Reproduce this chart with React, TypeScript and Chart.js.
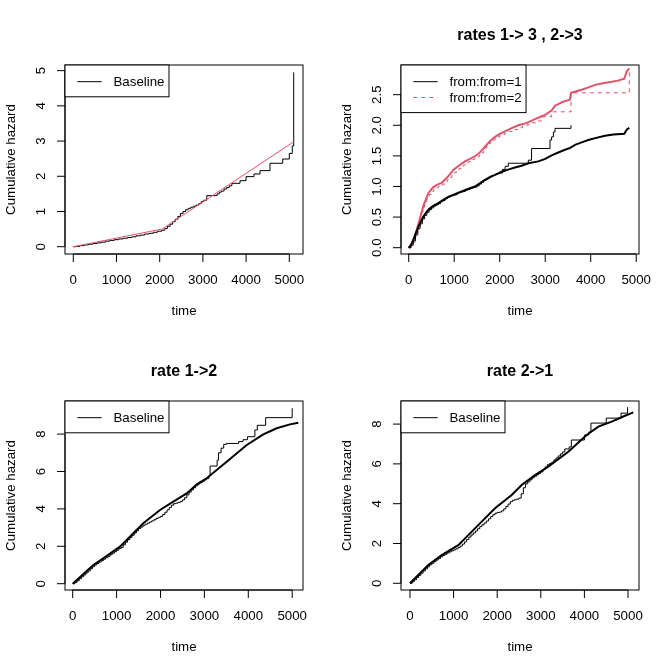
import { useEffect, useRef } from "react";
import { Chart, registerables } from "chart.js";

Chart.register(...registerables);

const RED = "#DF536B";
const FONT = "'Liberation Sans', Arial, Helvetica, sans-serif";

// Shared time axis ticks
const timeTicks = [0, 1000, 2000, 3000, 4000, 5000];

// Panel 1: baseline cumulative hazard (step) and piecewise-linear fit
const p1StepTime = [0, 60, 150, 250, 350, 450, 550, 650, 750, 850, 950, 1050, 1150, 1250, 1350, 1450, 1550, 1650, 1750, 1850, 1950, 2050, 2120, 2180, 2240, 2300, 2360, 2420, 2480, 2540, 2600, 2660, 2720, 2780, 2840, 2900, 2960, 3020, 3090, 3330, 3380, 3430, 3490, 3550, 3610, 3670, 3859, 3998, 4183, 4322, 4553, 4847, 5000, 5069, 5102];
const p1StepHaz = [0, 0.01, 0.03, 0.05, 0.07, 0.09, 0.11, 0.13, 0.16, 0.18, 0.2, 0.22, 0.24, 0.26, 0.28, 0.31, 0.33, 0.36, 0.38, 0.41, 0.44, 0.47, 0.52, 0.58, 0.64, 0.71, 0.78, 0.86, 0.94, 1.0, 1.05, 1.09, 1.12, 1.15, 1.18, 1.22, 1.28, 1.32, 1.45, 1.5, 1.55, 1.58, 1.64, 1.68, 1.73, 1.8, 1.875, 1.99, 2.065, 2.16, 2.37, 2.49, 2.65, 2.86, 4.95];
const p1FitTime = [0, 2050, 5102];
const p1FitHaz = [0, 0.5, 2.98];
const p1YTicks = [0, 1, 2, 3, 4, 5];
const p1YLabels = ["0", "1", "2", "3", "4", "5"];

// Panel 2: rates 1->3 and 2->3
const p2Fit1Time = [0, 40, 101, 150, 211, 270, 321, 380, 431, 530, 651, 760, 870, 1000, 1165, 1300, 1457, 1560, 1677, 1800, 1897, 2044, 2200, 2336, 2480, 2629, 2849, 3000, 3142, 3300, 3435, 3550, 3655, 3800, 3947, 4100, 4314, 4500, 4738, 4791, 4848];
const p2Fit1Haz = [0, 0.03, 0.126, 0.23, 0.34, 0.43, 0.51, 0.57, 0.62, 0.68, 0.73, 0.78, 0.83, 0.87, 0.92, 0.96, 1.0, 1.05, 1.11, 1.16, 1.19, 1.24, 1.28, 1.31, 1.34, 1.38, 1.41, 1.45, 1.51, 1.56, 1.6, 1.63, 1.68, 1.72, 1.76, 1.79, 1.83, 1.85, 1.86, 1.93, 1.96];
const p2Step1Time = [0, 50, 100, 150, 200, 250, 300, 350, 400, 450, 500, 550, 600, 650, 700, 750, 800, 850, 900, 950, 1000, 1050, 1100, 1150, 1200, 1250, 1300, 1350, 1400, 1450, 1500, 1550, 1600, 1650, 1700, 1750, 1800, 1850, 1900, 1950, 2000, 2060, 2120, 2189, 2629, 2700, 3105, 3140, 3180, 3215, 3567];
const p2Step1Haz = [0, 0.04, 0.11, 0.21, 0.31, 0.39, 0.47, 0.53, 0.58, 0.62, 0.65, 0.68, 0.7, 0.72, 0.75, 0.77, 0.8, 0.82, 0.84, 0.85, 0.86, 0.88, 0.9, 0.91, 0.92, 0.94, 0.95, 0.97, 0.98, 0.99, 1.01, 1.04, 1.07, 1.1, 1.12, 1.14, 1.16, 1.18, 1.2, 1.21, 1.22, 1.28, 1.33, 1.38, 1.43, 1.62, 1.76, 1.81, 1.89, 1.95, 2.0];
const p2Fit2Time = [0, 60, 138, 200, 257, 330, 431, 541, 630, 725, 850, 980, 1100, 1237, 1370, 1495, 1580, 1677, 1760, 1860, 1980, 2116, 2250, 2409, 2600, 2776, 2900, 2996, 3140, 3215, 3380, 3545, 3567, 3700, 3802, 3950, 4095, 4300, 4462, 4600, 4738, 4791, 4848];
const p2Fit2Haz = [0, 0.06, 0.18, 0.35, 0.51, 0.7, 0.89, 0.99, 1.03, 1.06, 1.15, 1.27, 1.34, 1.41, 1.46, 1.51, 1.57, 1.65, 1.72, 1.79, 1.85, 1.9, 1.95, 2.0, 2.04, 2.1, 2.14, 2.17, 2.24, 2.32, 2.38, 2.42, 2.53, 2.56, 2.58, 2.62, 2.66, 2.69, 2.71, 2.73, 2.76, 2.88, 2.93];
const p2Step2Time = [0, 50, 100, 150, 200, 250, 300, 350, 400, 450, 500, 550, 600, 650, 700, 750, 800, 850, 900, 950, 1000, 1050, 1100, 1150, 1200, 1250, 1300, 1350, 1400, 1450, 1500, 1550, 1600, 1650, 1700, 1750, 1800, 1850, 1900, 1950, 2000, 2100, 2200, 2300, 2400, 2500, 2600, 2700, 2800, 2920, 3140, 3567, 4848];
const p2Step2Haz = [0, 0.03, 0.09, 0.19, 0.32, 0.46, 0.6, 0.71, 0.8, 0.87, 0.92, 0.95, 0.98, 1.0, 1.02, 1.04, 1.08, 1.11, 1.15, 1.19, 1.23, 1.26, 1.29, 1.32, 1.35, 1.37, 1.4, 1.42, 1.44, 1.46, 1.48, 1.51, 1.55, 1.6, 1.65, 1.7, 1.73, 1.76, 1.79, 1.81, 1.83, 1.87, 1.9, 1.93, 1.96, 1.99, 2.01, 2.04, 2.07, 2.14, 2.22, 2.53, 2.93];
const p2YTicks = [0, 0.5, 1, 1.5, 2, 2.5];
const p2YLabels = ["0.0", "0.5", "1.0", "1.5", "2.0", "2.5"];

// Panel 3: rate 1->2
const p3FitTime = [0, 470, 697, 1077, 1608, 1989, 2292, 2597, 2825, 3052, 3508, 3964, 4342, 4647, 4950, 5139];
const p3FitHaz = [0, 1.0, 1.36, 1.98, 3.23, 3.94, 4.39, 4.83, 5.31, 5.64, 6.52, 7.42, 7.99, 8.31, 8.52, 8.61];
const p3StepTime = [0, 50, 100, 150, 200, 250, 300, 350, 400, 450, 500, 550, 600, 650, 700, 750, 800, 850, 900, 950, 1000, 1050, 1100, 1150, 1200, 1250, 1300, 1350, 1400, 1450, 1500, 1550, 1600, 1650, 1700, 1750, 1800, 1850, 1900, 1950, 2000, 2050, 2100, 2150, 2200, 2250, 2300, 2350, 2400, 2450, 2500, 2550, 2600, 2650, 2700, 2750, 2800, 2850, 2900, 2950, 3000, 3050, 3100, 3130, 3290, 3320, 3380, 3440, 3500, 3780, 3880, 3980, 4150, 4205, 4395, 5000];
const p3StepHaz = [0, 0.07, 0.16, 0.27, 0.37, 0.47, 0.58, 0.68, 0.8, 0.91, 1.0, 1.08, 1.16, 1.24, 1.31, 1.39, 1.46, 1.55, 1.63, 1.71, 1.79, 1.88, 1.93, 2.08, 2.22, 2.35, 2.47, 2.59, 2.71, 2.83, 2.95, 3.03, 3.12, 3.18, 3.24, 3.3, 3.36, 3.42, 3.49, 3.55, 3.6, 3.7, 3.82, 3.95, 4.08, 4.2, 4.28, 4.31, 4.34, 4.4, 4.48, 4.6, 4.75, 4.9, 5.02, 5.13, 5.24, 5.33, 5.4, 5.47, 5.55, 5.62, 5.75, 6.29, 6.6, 7.0, 7.25, 7.45, 7.5, 7.6, 7.7, 7.86, 8.22, 8.47, 8.88, 9.38];

// Panel 4: rate 2->1
const p4FitTime = [0, 420, 727, 1108, 1491, 1950, 2332, 2561, 2867, 3172, 3631, 4052, 4319, 4626, 4931, 5122];
const p4FitHaz = [0, 0.92, 1.42, 1.92, 2.76, 3.77, 4.44, 4.94, 5.44, 5.86, 6.61, 7.45, 7.87, 8.12, 8.42, 8.59];
const p4StepTime = [0, 50, 100, 150, 200, 250, 300, 350, 400, 450, 500, 550, 600, 650, 700, 750, 800, 850, 900, 950, 1000, 1050, 1100, 1150, 1200, 1250, 1300, 1350, 1400, 1450, 1500, 1550, 1600, 1650, 1700, 1750, 1800, 1850, 1900, 1950, 2000, 2050, 2100, 2150, 2200, 2250, 2300, 2350, 2400, 2450, 2500, 2550, 2600, 2650, 2700, 2750, 2800, 2850, 2900, 2950, 3000, 3050, 3100, 3150, 3200, 3250, 3300, 3350, 3400, 3450, 3500, 3550, 3650, 3700, 4000, 4100, 4150, 4500, 4840, 4990];
const p4StepHaz = [0, 0.08, 0.18, 0.29, 0.4, 0.51, 0.62, 0.73, 0.83, 0.93, 1.01, 1.09, 1.17, 1.25, 1.33, 1.4, 1.46, 1.52, 1.58, 1.63, 1.68, 1.73, 1.79, 1.87, 1.97, 2.08, 2.2, 2.32, 2.43, 2.53, 2.63, 2.74, 2.85, 2.94, 3.03, 3.13, 3.24, 3.35, 3.45, 3.52, 3.56, 3.58, 3.64, 3.74, 3.86, 3.98, 4.1, 4.17, 4.2, 4.23, 4.28, 4.5, 4.8, 5.0, 5.1, 5.2, 5.3, 5.38, 5.45, 5.52, 5.6, 5.72, 5.84, 5.96, 6.02, 6.08, 6.2, 6.3, 6.4, 6.5, 6.6, 6.75, 6.85, 7.2, 7.45, 7.6, 8.05, 8.3, 8.55, 8.85];
const p34YTicks = [0, 2, 4, 6, 8];
const p34YLabels = ["0", "2", "4", "6", "8"];

type LegendItem = { label: string; color: string; dash?: number[] };
type PanelOpts = {
  title?: string;
  xTicks: number[];
  yTicks: number[];
  yLabels: string[];
  legend: LegendItem[];
};

const axisFont = `13.3px ${FONT}`;

// Draws R-style box, outward ticks, rotated y labels, titles and legend
const rStyle = {
  id: "rStyle",
  afterDraw(chart: any, _args: any, opts: PanelOpts) {
    const { ctx, chartArea: a, scales } = chart;
    const xs = scales.x;
    const ys = scales.y;
    ctx.save();
    ctx.strokeStyle = "#000";
    ctx.fillStyle = "#000";
    ctx.lineWidth = 1;
    ctx.setLineDash([]);

    ctx.strokeRect(a.left, a.top, a.right - a.left, a.bottom - a.top);

    // x axis
    const xp = opts.xTicks.map((v) => xs.getPixelForValue(v));
    ctx.beginPath();
    ctx.moveTo(xp[0], a.bottom);
    ctx.lineTo(xp[xp.length - 1], a.bottom);
    xp.forEach((p) => {
      ctx.moveTo(p, a.bottom);
      ctx.lineTo(p, a.bottom + 8);
    });
    // y axis
    const yp = opts.yTicks.map((v) => ys.getPixelForValue(v));
    ctx.moveTo(a.left, yp[0]);
    ctx.lineTo(a.left, yp[yp.length - 1]);
    yp.forEach((p) => {
      ctx.moveTo(a.left, p);
      ctx.lineTo(a.left - 8, p);
    });
    ctx.stroke();

    ctx.font = axisFont;
    ctx.textAlign = "center";
    ctx.textBaseline = "alphabetic";
    xp.forEach((p, i) => ctx.fillText(String(opts.xTicks[i]), p, a.bottom + 30));
    yp.forEach((p, i) => {
      ctx.save();
      ctx.translate(a.left - 20, p);
      ctx.rotate(-Math.PI / 2);
      ctx.fillText(opts.yLabels[i], 0, 0);
      ctx.restore();
    });

    const cx = (a.left + a.right) / 2;
    const cy = (a.top + a.bottom) / 2;
    ctx.fillText("time", cx, a.bottom + 61);
    ctx.save();
    ctx.translate(a.left - 50.5, cy);
    ctx.rotate(-Math.PI / 2);
    ctx.fillText("Cumulative hazard", 0, 0);
    ctx.restore();

    if (opts.title) {
      ctx.font = `bold 16px ${FONT}`;
      ctx.fillText(opts.title, cx, a.top - 25.3);
    }

    // legend in the top-left corner
    ctx.font = axisFont;
    const rowH = 15.8;
    const textX = a.left + 48.5;
    const wMax = Math.max(...opts.legend.map((it) => ctx.measureText(it.label).width));
    const boxW = textX - a.left + wMax + 4.5;
    const boxH = 16 + rowH * opts.legend.length;
    ctx.fillStyle = "#fff";
    ctx.fillRect(a.left, a.top, boxW, boxH);
    ctx.strokeStyle = "#000";
    ctx.strokeRect(a.left, a.top, boxW, boxH);
    ctx.textAlign = "left";
    ctx.textBaseline = "middle";
    opts.legend.forEach((it, i) => {
      const y = a.top + 16.7 + i * rowH;
      ctx.strokeStyle = it.color;
      ctx.setLineDash(it.dash || []);
      ctx.beginPath();
      ctx.moveTo(a.left + 12.3, y);
      ctx.lineTo(a.left + 36.7, y);
      ctx.stroke();
      ctx.setLineDash([]);
      ctx.fillStyle = "#000";
      ctx.fillText(it.label, textX, y + 0.5);
    });
    ctx.restore();
  },
};

type Series = {
  t: number[];
  v: number[];
  color: string;
  width: number;
  step?: boolean;
  dash?: number[];
};

function makeDataset(s: Series) {
  return {
    data: s.t.map((x, i) => ({ x, y: s.v[i] })),
    borderColor: s.color,
    borderWidth: s.width,
    borderDash: s.dash || [],
    stepped: s.step ? "before" : false,
    pointRadius: 0,
    tension: 0,
    fill: false,
  };
}

type PanelProps = {
  series: Series[];
  xMin: number;
  xMax: number;
  yMin: number;
  yMax: number;
  opts: PanelOpts;
  left: number;
  top: number;
};

function Panel({ series, xMin, xMax, yMin, yMax, opts, left, top }: PanelProps) {
  const ref = useRef<HTMLCanvasElement | null>(null);
  useEffect(() => {
    if (!ref.current) return;
    const chart = new Chart(ref.current, {
      type: "line",
      data: { datasets: series.map(makeDataset) as any },
      options: {
        responsive: false,
        maintainAspectRatio: false,
        devicePixelRatio: 1,
        animation: false,
        events: [],
        layout: { padding: { left: 65, top: 65, right: 33, bottom: 82 } },
        scales: {
          x: { type: "linear", min: xMin, max: xMax, display: false },
          y: { type: "linear", min: yMin, max: yMax, display: false },
        },
        plugins: {
          legend: { display: false },
          tooltip: { enabled: false },
          rStyle: opts,
        } as any,
      },
      plugins: [rStyle],
    });
    return () => chart.destroy();
  }, []);
  return (
    <div style={{ position: "absolute", left, top, width: 336, height: 336 }}>
      <canvas ref={ref} width={336} height={336} style={{ display: "block" }} />
    </div>
  );
}

export default function App() {
  return (
    <div style={{ position: "absolute", left: 0, top: 0, width: 672, height: 672, background: "#fff" }}>
      <Panel
        left={0}
        top={0}
        xMin={-192}
        xMax={5317}
        yMin={-0.207}
        yMax={5.16}
        series={[
          { t: p1FitTime, v: p1FitHaz, color: RED, width: 1 },
          { t: p1StepTime, v: p1StepHaz, color: "#000", width: 1, step: true },
        ]}
        opts={{
          xTicks: timeTicks,
          yTicks: p1YTicks,
          yLabels: p1YLabels,
          legend: [{ label: "Baseline", color: "#000" }],
        }}
      />
      <Panel
        left={336}
        top={0}
        xMin={-169}
        xMax={5061}
        yMin={-0.103}
        yMax={2.985}
        series={[
          { t: p2Step1Time, v: p2Step1Haz, color: "#000", width: 1, step: true },
          { t: p2Fit1Time, v: p2Fit1Haz, color: "#000", width: 2 },
          { t: p2Step2Time, v: p2Step2Haz, color: RED, width: 1, step: true, dash: [4, 4] },
          { t: p2Fit2Time, v: p2Fit2Haz, color: RED, width: 2 },
        ]}
        opts={{
          title: "rates 1-> 3 , 2->3",
          xTicks: timeTicks,
          yTicks: p2YTicks,
          yLabels: p2YLabels,
          legend: [
            { label: "from:from=1", color: "#000" },
            { label: "from:from=2", color: RED, dash: [4, 4] },
          ],
        }}
      />
      <Panel
        left={0}
        top={336}
        xMin={-175}
        xMax={5246}
        yMin={-0.337}
        yMax={9.77}
        series={[
          { t: p3StepTime, v: p3StepHaz, color: "#000", width: 1, step: true },
          { t: p3FitTime, v: p3FitHaz, color: "#000", width: 2 },
        ]}
        opts={{
          title: "rate 1->2",
          xTicks: timeTicks,
          yTicks: p34YTicks,
          yLabels: p34YLabels,
          legend: [{ label: "Baseline", color: "#000" }],
        }}
      />
      <Panel
        left={336}
        top={336}
        xMin={-206}
        xMax={5252}
        yMin={-0.337}
        yMax={9.16}
        series={[
          { t: p4StepTime, v: p4StepHaz, color: "#000", width: 1, step: true },
          { t: p4FitTime, v: p4FitHaz, color: "#000", width: 2 },
        ]}
        opts={{
          title: "rate 2->1",
          xTicks: timeTicks,
          yTicks: p34YTicks,
          yLabels: p34YLabels,
          legend: [{ label: "Baseline", color: "#000" }],
        }}
      />
    </div>
  );
}
